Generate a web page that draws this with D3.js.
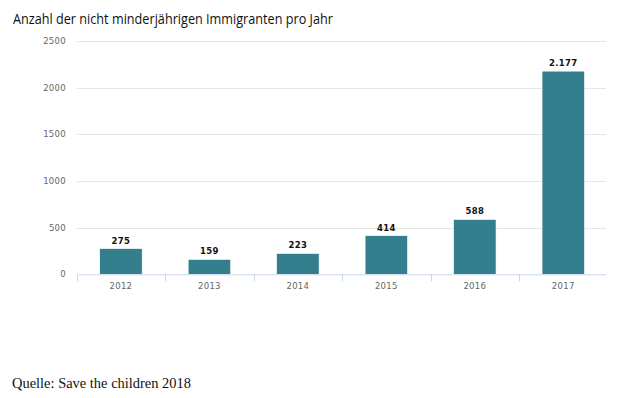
<!DOCTYPE html>
<html><head><meta charset="utf-8">
<script src="https://cdn.jsdelivr.net/npm/d3@7"></script>
<style>body{margin:0;background:#fff}svg{display:block}</style>
</head><body>
<svg id="c" width="620" height="398"></svg>
<script>
const categories = ["2012","2013","2014","2015","2016","2017"];
const values = [275,159,223,414,588,2177];
const yTicks = [0,500,1000,1500,2000,2500];
const labels = ["275","159","223","414","588","2.177"];
const titleText = "Anzahl der nicht minderjährigen Immigranten pro Jahr";
const sourceText = "Quelle: Save the children 2018";

(function(){
const svg = d3.select("#c");
const pLeft = 76.7, pRight = 607.5, lineRight = 606, pTop = 41, pBottom = 274.3;
const x = d3.scaleBand().domain(categories).range([pLeft, pRight]).paddingInner(0.52).paddingOuter(0.26);
const xb = d3.scaleBand().domain(categories).range([pLeft, pRight]);
const y = d3.scaleLinear().domain([0,2500]).range([pBottom, pTop]);

svg.append("text").attr("x",13).attr("y",24).attr("font-family","Open Sans, sans-serif")
  .attr("font-size",14).attr("fill","#111").attr("textLength",320).attr("lengthAdjust","spacingAndGlyphs").text(titleText);

svg.append("g").selectAll("line").data(yTicks.filter(d=>d>0)).join("line")
  .attr("x1",pLeft).attr("x2",lineRight).attr("y1",d=>Math.round(y(d))+0.5).attr("y2",d=>Math.round(y(d))+0.5)
  .attr("stroke","#e6e6e6").attr("stroke-width",1);

svg.append("g").selectAll("text").data(yTicks).join("text")
  .attr("x",66).attr("y",d=>y(d)+3).attr("text-anchor","end")
  .attr("font-family","DejaVu Sans, sans-serif").attr("font-size",8.5).attr("fill","#666").attr("letter-spacing",0.3)
  .text(d=>d);

svg.append("g").selectAll("rect").data(values).join("rect")
  .attr("x",(d,i)=>x(categories[i])).attr("width",x.bandwidth())
  .attr("y",d=>y(d)).attr("height",d=>pBottom-y(d))
  .attr("fill","#337f8d").attr("stroke","#fff").attr("stroke-width",0.6);

svg.append("line").attr("x1",pLeft).attr("x2",lineRight).attr("y1",pBottom+0.5).attr("y2",pBottom+0.5).attr("stroke","#ccd6eb");
const tickPos = categories.map(c=>xb(c));
svg.append("g").selectAll("line").data(tickPos).join("line")
  .attr("x1",d=>Math.round(d)+0.5).attr("x2",d=>Math.round(d)+0.5).attr("y1",pBottom).attr("y2",pBottom+7)
  .attr("stroke","#ccd6eb");
svg.append("g").selectAll("text").data(categories).join("text")
  .attr("x",d=>xb(d)+xb.bandwidth()/2).attr("y",pBottom+15).attr("text-anchor","middle")
  .attr("font-family","DejaVu Sans, sans-serif").attr("font-size",8.5).attr("fill","#666").attr("letter-spacing",0.3)
  .text(d=>d);

svg.append("g").selectAll("text").data(values).join("text")
  .attr("x",(d,i)=>x(categories[i])+x.bandwidth()/2).attr("y",d=>y(d)-5).attr("text-anchor","middle")
  .attr("font-family","DejaVu Sans, sans-serif").attr("font-weight","bold").attr("font-size",8.5).attr("fill","#111")
  .attr("letter-spacing",0.3).text((d,i)=>labels[i]);

svg.append("text").attr("x",12).attr("y",388).attr("font-family","Liberation Serif, serif")
  .attr("font-size",14.5).attr("fill","#111").attr("textLength",179).attr("lengthAdjust","spacingAndGlyphs").text(sourceText);
})();
</script>
</body></html>
